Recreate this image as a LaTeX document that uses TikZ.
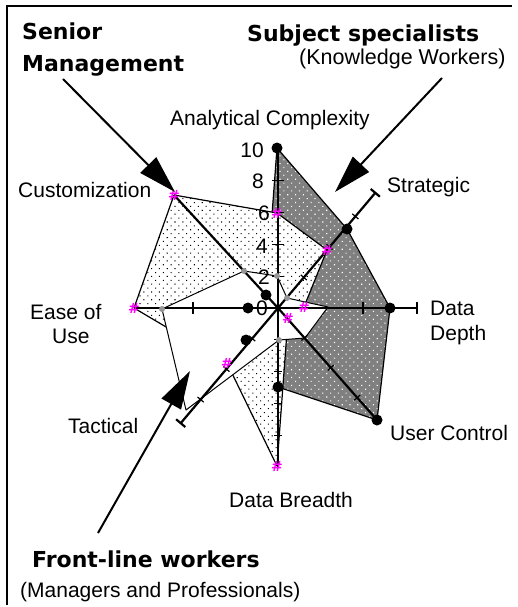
\documentclass[tikz,border=0pt]{standalone}
\usepackage{fontspec}
\setmainfont{Liberation Sans}
\newfontfamily\hfont{DejaVu Sans}
\usetikzlibrary{arrows.meta,patterns.meta}
\definecolor{dk}{RGB}{128,128,128}
\definecolor{mag}{RGB}{255,0,255}
\definecolor{gmk}{RGB}{150,150,150}
\begin{document}
\begin{tikzpicture}[x=1pt,y=-1pt,
  lbl/.style={font=\fontsize{21}{24}\selectfont, inner sep=0pt, anchor=base west},
  num/.style={font=\fontsize{21}{24}\selectfont, inner sep=0pt, anchor=base east},
  hd/.style={font=\hfont\bfseries\fontsize{22}{26}\selectfont, inner sep=0pt, anchor=base west},
  axisline/.style={line width=2.2pt, black},
  tickline/.style={line width=1.2pt, black},
  bigarrow/.style={line width=2pt, -{Triangle[length=38pt,width=22pt]}},
  poly/.style={line width=1.2pt, line join=round},
  bdot/.style={circle, fill=black, inner sep=0pt, minimum size=11pt},
  gdot/.style={circle, fill=gmk, inner sep=0pt, minimum size=6pt},
  pmark/.style={font=\hfont\bfseries\fontsize{14}{14}\selectfont, text=mag, inner sep=0pt},
]
\useasboundingbox (0,0) rectangle (517,607);

% frame
\draw[line width=2pt] (512,6) -- (7,6) -- (7,605);

% centre and axis ends
\coordinate (O) at (278,308);
\coordinate (AC) at (278,148);
\coordinate (ST) at (376,192);
\coordinate (DD) at (418,308);
\coordinate (UC) at (377,420);
\coordinate (DB) at (278,468);
\coordinate (TA) at (180,424);
\coordinate (EU) at (134,308);
\coordinate (CU) at (174,195);

% Subject specialists series
\coordinate (D1) at (277,148);
\coordinate (D2) at (347,229);
\coordinate (D3) at (390,308);
\coordinate (D4) at (377,420);
\coordinate (D5) at (278,387);
\coordinate (D6) at (246,340);
\coordinate (D7) at (248,308);
\coordinate (D8) at (266,295);

% Senior management series
\coordinate (S1) at (174,195);
\coordinate (S2) at (277,213);
\coordinate (S3) at (327,250);
\coordinate (S4) at (304,307);
\coordinate (S5) at (288,318);
\coordinate (S6) at (277,466);
\coordinate (S7) at (227,363);
\coordinate (S8) at (134,308);

% Front-line series
\coordinate (F1) at (277,276);
\coordinate (F2) at (287,298);
\coordinate (F3) at (328,307);
\coordinate (F4) at (305,338);
\coordinate (F5) at (279,340);
\coordinate (F6) at (186,410);
\coordinate (F7) at (162,309);
\coordinate (F8) at (244,271);

% polygons
\path[poly, preaction={fill=dk}, pattern={Dots[distance=5.5pt,angle=45,radius=0.8pt]}, pattern color=white, draw=black]
  (D1) -- (D2) -- (D3) -- (D4) -- (D5) -- (D6) -- (D7) -- (D8) -- cycle;
\path[poly, preaction={fill=white}, pattern={Dots[distance=5.5pt,angle=45,radius=0.75pt]}, pattern color=black, draw=black]
  (S1) -- (S2) -- (S3) -- (S4) -- (S5) -- (S6) -- (S7) -- (S8) -- cycle;
\path[poly, fill=white, draw=black, line width=1pt]
  (F1) -- (F2) -- (F3) -- (F4) -- (F5) -- (F6) -- (F7) -- (F8) -- cycle;

% axes
\draw[axisline] (O) -- (AC);
\draw[axisline] (O) -- (DB);
\draw[axisline, -{Bar[width=12pt]}] (O) -- (DD);
\draw[axisline] (O) -- (EU);
\draw[axisline, -{Bar[width=12pt]}] (O) -- (ST);
\draw[axisline, -{Bar[width=12pt]}] (O) -- (TA);
\draw[axisline] (O) -- (CU);
\draw[axisline] (O) -- (UC);

% ticks
\foreach \v in {2,4,6,8} \draw[tickline] (272,{308-15.9*\v}) -- (284,{308-15.9*\v});
\foreach \v in {2,4,6,8} \draw[tickline] (274,{308+15.9*\v}) -- (282,{308+15.9*\v});
\draw[tickline] (193,302) -- (193,314);
\draw[tickline] (363,302) -- (363,314);
\foreach \r in {40,80,120} {
  \draw[tickline] ({278+\r*0.645-4*0.763},{308-\r*0.763-4*0.645}) -- ({278+\r*0.645+4*0.763},{308-\r*0.763+4*0.645});
  \draw[tickline] ({278-\r*0.645-4*0.763},{308+\r*0.763-4*0.645}) -- ({278-\r*0.645+4*0.763},{308+\r*0.763+4*0.645});
  \draw[tickline] ({278+\r*0.66-4*0.747},{308+\r*0.747+4*0.66}) -- ({278+\r*0.66+4*0.747},{308+\r*0.747-4*0.66});
}

% markers
\foreach \p in {D1,D2,D3,D4,D5,D6,D7,D8} \node[bdot] at (\p) {};
\foreach \p in {F1,F2,F5,F7,F8} \node[gdot] at (\p) {};
\foreach \p in {S1,S2,S3,S4,S5,S6,S7,S8} \node[pmark] at (\p) {\#};

% scale labels
\node[num] (n10) at (264,157) {10};
\node[num] (n8) at (264,188) {8};
\node[num] (n6) at (270,220) {6};
\node[num] (n4) at (268,253) {4};
\node[num] (n2) at (270,284) {2};
\node[num] (n0) at (268,315) {0};

% axis labels
\node[lbl] (lAC) at (170,125) {Analytical Complexity};
\node[lbl] (lST) at (387,192) {Strategic};
\node[lbl] (lDD1) at (430,315) {Data};
\node[lbl] (lDD2) at (430,340) {Depth};
\node[lbl] (lUC) at (390,440) {User Control};
\node[lbl] (lDB) at (229,507) {Data Breadth};
\node[lbl] (lTA) at (68,433) {Tactical};
\node[lbl] (lEU1) at (30,319) {Ease of};
\node[lbl] (lEU2) at (52,343) {Use};
\node[lbl] (lCU) at (18,197) {Customization};

% group titles
\node[hd] (sm1) at (22,40) {Senior};
\node[hd] (sm2) at (22,72) {Management};
\node[hd] (ss1) at (247,42) {Subject specialists};
\node[lbl, font=\fontsize{21.5}{24}\selectfont] (ss2) at (299,65) {(Knowledge Workers)};
\node[hd] (fl1) at (32,567) {Front-line workers};
\node[lbl] (fl2) at (20,597) {(Managers and Professionals)};

% pointer arrows
\coordinate (smA) at (63,79);
\coordinate (smB) at (175,192);
\coordinate (ssA) at (442,78);
\coordinate (ssB) at (335,192);
\coordinate (flA) at (98,533);
\coordinate (flB) at (190,371);
\draw[bigarrow] (smA) -- (smB);
\draw[bigarrow] (ssA) -- (ssB);
\draw[bigarrow] (flA) -- (flB);
\end{tikzpicture}
\end{document}
